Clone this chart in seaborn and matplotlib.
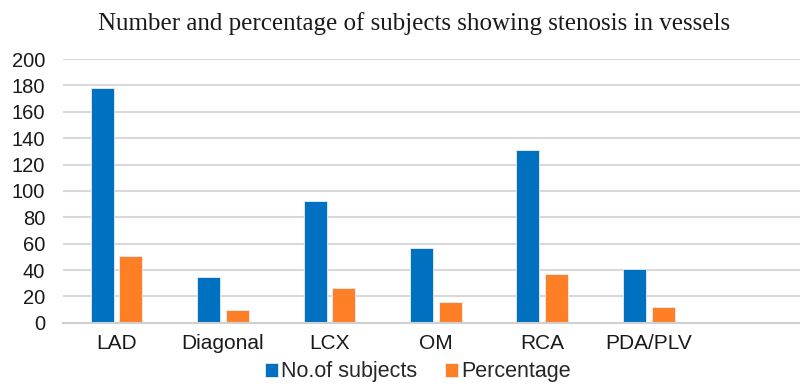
import matplotlib
matplotlib.use("Agg")
import matplotlib.pyplot as plt
import seaborn as sns
import pandas as pd

# Vessels and their counts
vessels = ["LAD", "Diagonal", "LCX", "OM", "RCA", "PDA/PLV"]
n_subjects = [178, 35, 92, 57, 131, 41]
percentage = [51, 10, 26, 16, 37, 12]
series_names = ["No.of subjects", "Percentage"]
y_ticks = [0, 20, 40, 60, 80, 100, 120, 140, 160, 180, 200]

df = pd.DataFrame({
    "vessel": vessels * 2,
    "value": n_subjects + percentage,
    "series": [series_names[0]] * len(vessels) + [series_names[1]] * len(vessels),
})

sns.set_theme(style="white")
plt.rcParams["font.family"] = ["Liberation Sans", "DejaVu Sans"]

fig = plt.figure(figsize=(8.0, 3.87), dpi=100)
ax = fig.add_axes([0.079, 0.166, 0.921, 0.6814])

palette = {series_names[0]: "#0070C0", series_names[1]: "#FF7F27"}
sns.barplot(data=df, x="vessel", y="value", hue="series", order=vessels,
            hue_order=series_names, palette=palette, width=0.54, gap=0.2,
            edgecolor="#e8eef6", linewidth=0.6, ax=ax, legend=True,
            saturation=1)

ax.set_ylim(0, 200)
ax.set_yticks(y_ticks)
ax.set_xlim(-0.5, 6.42)
ax.set_xlabel("")
ax.set_ylabel("")
ax.yaxis.grid(True, color="#D9D9D9", linewidth=1.5)
ax.set_axisbelow(True)
for side in ["top", "right", "left"]:
    ax.spines[side].set_visible(False)
ax.spines["bottom"].set_color("#D0D0D0")
ax.spines["bottom"].set_linewidth(1.5)
ax.tick_params(axis="y", length=0, pad=13, labelsize=14.5, labelcolor="#1a1a1a")
ax.tick_params(axis="x", length=0, pad=8, labelsize=15, labelcolor="#1a1a1a")

handles, labels = ax.get_legend_handles_labels()
ax.get_legend().remove()
fig.legend(handles, labels, loc="lower center", bbox_to_anchor=(0.522, -0.038),
           ncol=2, frameon=False, fontsize=15.5, handlelength=0.6,
           handleheight=0.6, handletextpad=0.15, columnspacing=1.3)

fig.text(0.5175, 0.922, "Number and percentage of subjects showing stenosis in vessels",
         ha="center", va="baseline", family=["Liberation Serif", "DejaVu Serif"],
         fontsize=18, color="#1a1a1a")

fig.savefig("out.png", dpi=100, facecolor="white")
